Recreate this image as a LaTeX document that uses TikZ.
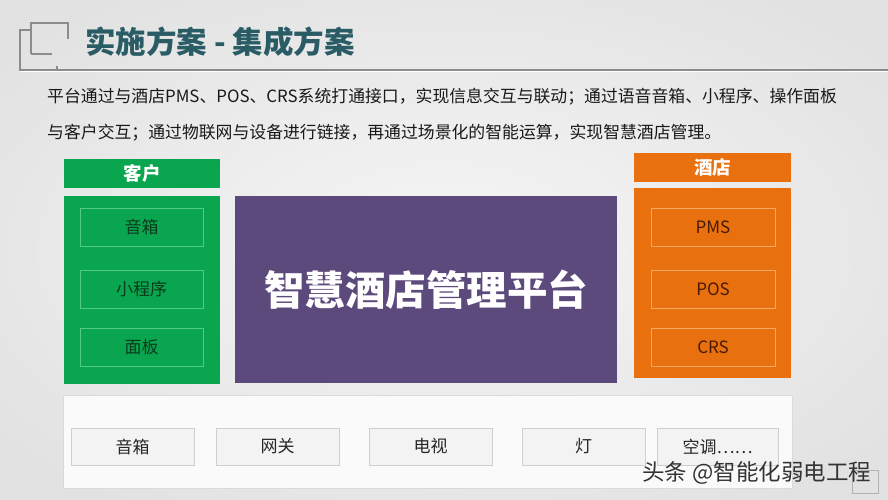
\documentclass[tikz,border=0pt]{standalone}
\usepackage{fontspec}
\setmainfont{Noto Sans CJK SC}
\definecolor{bgin}{HTML}{F6F6F6}
\definecolor{bgout}{HTML}{E2E2E2}
\definecolor{titlecol}{HTML}{2A5C66}
\definecolor{iconcol}{HTML}{8C8C8C}
\definecolor{greenmain}{HTML}{0AA64F}
\definecolor{greenline}{HTML}{52C985}
\definecolor{greentext}{HTML}{0B3B1E}
\definecolor{orangemain}{HTML}{E8700F}
\definecolor{orangeline}{HTML}{F6A75E}
\definecolor{orangetext}{HTML}{4A1A05}
\definecolor{purplemain}{HTML}{5D4A7C}
\definecolor{devfill}{HTML}{F3F3F3}
\definecolor{devline}{HTML}{CFCFCF}
\definecolor{contline}{HTML}{DADADA}
\begin{document}
\begin{tikzpicture}[x=1pt,y=-1pt,
  rect/.style={inner sep=0pt, outer sep=0pt, align=center},
  headbox/.style={rect, text=white, font=\fontsize{18.5}{21}\selectfont\bfseries, minimum height=29},
  greenhead/.style={headbox, fill=greenmain, minimum width=156},
  orangehead/.style={headbox, fill=orangemain, minimum width=157},
  greenitem/.style={rect, draw=greenline, line width=0.8pt, text=greentext, minimum width=123, minimum height=38, font=\fontsize{17}{20}\selectfont},
  orangeitem/.style={rect, draw=orangeline, line width=0.8pt, text=orangetext, minimum width=124, minimum height=38, font=\fontsize{17}{20}\selectfont},
  devbox/.style={rect, fill=devfill, draw=devline, line width=0.9pt, text=black!85, minimum height=37, font=\fontsize{17}{20}\selectfont},
  desc/.style={anchor=west, inner sep=0pt, text=black!90, font=\fontsize{16.85}{20}\selectfont},
  iconline/.style={draw=iconcol, line width=1.4pt}
]
\useasboundingbox (0,0) rectangle (888,500);
\shade[inner color=bgin, outer color=bgout] (-120,-60) rectangle (1008,560);

% header icon and rule
\draw[iconline] (31,54) -- (31,23) -- (68,23) -- (68,39);
\draw[iconline] (31,54) -- (52,54);
\draw[iconline] (31,30) -- (20,30) -- (20,70) -- (888,70);
\draw[iconline] (57,66) -- (57,70);
\draw[draw=white, line width=1pt] (20,72) -- (888,72);

% title
\node[anchor=west, inner sep=0pt, text=titlecol, font=\fontsize{30.5}{35}\selectfont\bfseries] (title) at (85,42) {实施方案 - 集成方案};

% description
\node[desc] (line1) at (47,97) {平台通过与酒店PMS、POS、CRS系统打通接口，实现信息交互与联动；通过语音音箱、小程序、操作面板};
\node[desc] (line2) at (47,133) {与客户交互；通过物联网与设备进行链接，再通过场景化的智能运算，实现智慧酒店管理。};

% customer column
\node[greenhead] (khhead) at (142,173.5) {客户};
\node[rect, fill=greenmain, minimum width=156, minimum height=188] (khbody) at (142,290) {};
\node[greenitem] (kh1) at (141.5,227) {音箱};
\node[greenitem] (kh2) at (141.5,289.5) {小程序};
\node[greenitem] (kh3) at (141.5,347) {面板};

% platform
\node[rect, fill=purplemain, minimum width=382, minimum height=187, text=white, font=\fontsize{40.5}{46}\selectfont\bfseries] (platform) at (426,289.5) {智慧酒店管理平台};

% hotel column
\node[orangehead] (jdhead) at (712.5,167.5) {酒店};
\node[rect, fill=orangemain, minimum width=157, minimum height=190] (jdbody) at (712.5,283) {};
\node[orangeitem] (jd1) at (713,227) {PMS};
\node[orangeitem] (jd2) at (713,289.5) {POS};
\node[orangeitem] (jd3) at (713,347) {CRS};

% devices
\node[rect, fill=white!60!devfill, draw=contline, line width=0.9pt, minimum width=729, minimum height=93] (devices) at (427.5,441.5) {};
\node[devbox, minimum width=123] (dev1) at (132.5,446.5) {音箱};
\node[devbox, minimum width=123] (dev2) at (277.5,446.5) {网关};
\node[devbox, minimum width=123] (dev3) at (430.5,446.5) {电视};
\node[devbox, minimum width=123] (dev4) at (583.5,446.5) {灯};
\node[devbox, minimum width=121] (dev5) at (717.5,446.5) {空调……};

% page mark and watermark
\draw[draw=black!30, line width=0.8pt] (852,470) rectangle (878,493);
\node[anchor=west, inner sep=0pt, text=black!80, font=\fontsize{22.5}{26}\selectfont] (mark) at (642,473) {头条 @智能化弱电工程};
\end{tikzpicture}
\end{document}
